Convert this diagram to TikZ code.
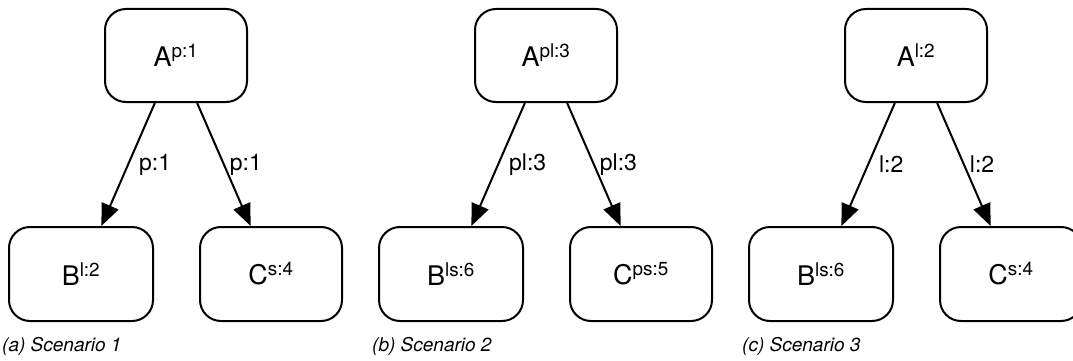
\documentclass[tikz,border=0pt]{standalone}
\usepackage{fontspec}
\setmainfont{TeX Gyre Heros}
\usetikzlibrary{arrows.meta}
\tikzset{
  statebox/.style={
    rounded corners=21pt,
    draw=black,
    line width=2pt,
    minimum width=142pt,
    minimum height=93pt,
    inner sep=0pt,
    font=\fontsize{27}{32}\selectfont
  },
  flow/.style={line width=2pt, -{Triangle[length=22pt,width=18pt]}},
  flowlabel/.style={anchor=west, inner sep=0pt, font=\fontsize{23}{27}\selectfont},
  subcap/.style={anchor=west, inner sep=0pt, font=\fontsize{19}{23}\selectfont\itshape}
}

\begin{document}
\begin{tikzpicture}[x=1pt,y=-1pt]
  \useasboundingbox (0,0) rectangle (1073,361);
  \clip (0,0) rectangle (1073,361);
  % one scenario per column
  \foreach \s/\a/\b/\c/\e/\t in {
      0/{p:1}/{l:2}/{s:4}/{p:1}/{(a) Scenario 1},
      1/{pl:3}/{ls:6}/{ps:5}/{pl:3}/{(b) Scenario 2},
      2/{l:2}/{ls:6}/{s:4}/{l:2}/{(c) Scenario 3}}{
    \begin{scope}[xshift=\s*370pt]
      \node[statebox] (A\s) at (176,55.5) {A\textsuperscript{\a}};
      \node[statebox, minimum width=144pt, minimum height=94pt] (B\s) at (81,274) {B\textsuperscript{\b}};
      \node[statebox, minimum height=94pt] (C\s) at (271,274) {C\textsuperscript{\c}};
      \draw[flow] (A\s.-114) -- node[flowlabel, xshift=10pt] {\e} (B\s.67);
      \draw[flow] (A\s.-66) -- node[flowlabel, xshift=5pt] {\e} (C\s.113);
      \node[subcap] (cap\s) at (2,346) {\t};
    \end{scope}
  }
\end{tikzpicture}
\end{document}
